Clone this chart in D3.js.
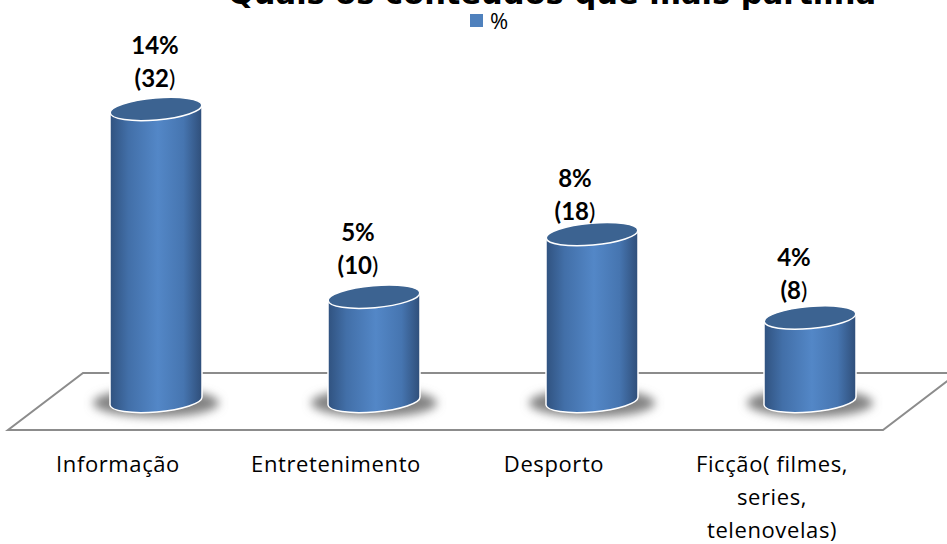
<!DOCTYPE html>
<html>
<head>
<meta charset="utf-8">
<script src="https://cdn.jsdelivr.net/npm/d3@7"></script>
<style>
html, body { margin:0; padding:0; background:#fff; overflow:hidden; }
svg { display:block; }
text { fill:#000; }
.axisLabel text { font-family:"Open Sans"; font-size:22px; letter-spacing:0.6px; }
.dataLabel { font-family:"Lato"; font-size:24px; font-weight:700; text-anchor:middle; }
</style>
</head>
<body>
<svg id="chart" width="947" height="544"></svg>
<script>
var categories = ["Informação", "Entretenimento", "Desporto", "Ficção( filmes,\nseries,\ntelenovelas)"];
var percentages = [14, 5, 8, 4];
var counts = [32, 10, 18, 8];
var seriesName = "%";
var chartTitle = "Quais os conteúdos que mais partilha";

// labels were dragged by hand in the original
var labelNudgeX = [-1, -16, -17, -16];
var labelNudgeY = [-22, -23, -14, -19];

var width = 947;
var height = 544;
var barWidth = 92;
var capRy = 11;
var capTilt = -5;
var capRise = 4;
var baseY = 401;
var floorFront = 430;
var floorBack = 373;
var floorLeft = 8;
var floorRight = 883;
var floorDepth = 75;

var svg = d3.select("#chart");

var x = d3.scaleBand()
.domain(categories)
.range([47, 919])
.padding(0);

var y = d3.scaleLinear()
.domain([0, 14])
.range([baseY, 109]);

var defs = svg.append("defs");

var grad = defs.append("linearGradient")
.attr("id", "barGrad")
.attr("x1", 0).attr("x2", 1)
.attr("y1", 0).attr("y2", 0);
grad.append("stop").attr("offset", "0%").attr("stop-color", "#30527f");
grad.append("stop").attr("offset", "20%").attr("stop-color", "#426fa8");
grad.append("stop").attr("offset", "52%").attr("stop-color", "#5387c7");
grad.append("stop").attr("offset", "80%").attr("stop-color", "#4675b0");
grad.append("stop").attr("offset", "100%").attr("stop-color", "#2f4e79");

defs.append("filter")
.attr("id", "shadowBlur")
.attr("x", "-30%").attr("y", "-60%")
.attr("width", "160%").attr("height", "220%")
.append("feGaussianBlur")
.attr("stdDeviation", 5);

// title is cut by the top edge in the original
svg.append("text")
.attr("x", 552)
.attr("y", 4)
.attr("text-anchor", "middle")
.attr("font-family", "DejaVu Sans")
.attr("font-weight", 700)
.attr("font-size", 30.5)
.text(chartTitle);

// legend
svg.append("rect")
.attr("x", 470)
.attr("y", 14)
.attr("width", 13)
.attr("height", 13)
.attr("fill", "#4f81bd");
svg.append("text")
.attr("x", 490)
.attr("y", 29)
.attr("font-family", "Open Sans")
.attr("font-size", 22)
.text(seriesName);

// floor
svg.append("path")
.attr("d", "M" + [floorLeft, floorFront]
	+ " L" + [floorRight, floorFront]
	+ " L" + [floorRight + floorDepth, floorBack]
	+ " L" + [floorLeft + floorDepth, floorBack] + " Z")
.attr("fill", "#fff")
.attr("stroke", "#8c8c8c")
.attr("stroke-width", 2);

var bars = svg.selectAll("g.bar")
.data(categories)
.enter().append("g")
.attr("class", "bar")
.attr("transform", function(d) {
	return "translate(" + [x(d) + x.bandwidth() / 2, 0] + ")";
});

bars.append("ellipse")
.attr("cx", 0)
.attr("cy", baseY + 2)
.attr("rx", 63)
.attr("ry", 14)
.attr("fill", "#828282")
.attr("filter", "url(#shadowBlur)");

bars.append("path")
.attr("d", function(d, i) {
	var r = barWidth / 2;
	var top = y(percentages[i]);
	return "M" + [-r, top + capRise]
		+ " L" + [-r, baseY + capRise]
		+ " A" + r + "," + capRy + " " + capTilt + " 0 0 " + [r, baseY - capRise]
		+ " L" + [r, top - capRise] + " Z";
})
.attr("fill", "url(#barGrad)")
.attr("stroke", "#fff")
.attr("stroke-width", 1.5);

bars.append("ellipse")
.attr("cx", 0)
.attr("cy", 0)
.attr("rx", barWidth / 2)
.attr("ry", capRy)
.attr("transform", function(d, i) {
	return "translate(" + [0, y(percentages[i])] + ") rotate(" + capTilt + ")";
})
.attr("fill", "#3c6391")
.attr("stroke", "#fff")
.attr("stroke-width", 1.5);

bars.each(function(d, i) {
	var g = d3.select(this);
	var lx = labelNudgeX[i];
	var ly = y(percentages[i]) + labelNudgeY[i];
	g.append("text")
	.attr("class", "dataLabel")
	.attr("x", lx)
	.attr("y", ly - 33)
	.text(percentages[i] + "%");
	var t = g.append("text")
	.attr("class", "dataLabel")
	.attr("x", lx)
	.attr("y", ly);
	t.append("tspan").text("(" + counts[i]);
	t.append("tspan").attr("font-weight", 400).text(")");
});

// category axis sits on the front edge of the floor, so it is shifted left of the bars
var axis = d3.axisBottom(x).tickSize(0).tickPadding(0);
var gAxis = svg.append("g")
.attr("class", "axisLabel")
.attr("transform", "translate(" + [-38, 472] + ")")
.call(axis);
gAxis.select(".domain").remove();
gAxis.selectAll(".tick text").each(function(d) {
	var t = d3.select(this).text(null).attr("y", 0).attr("dy", null);
	d.split("\n").forEach(function(line, i) {
		t.append("tspan")
		.attr("x", 0)
		.attr("y", i * 33)
		.text(line);
	});
});
</script>
</body>
</html>
